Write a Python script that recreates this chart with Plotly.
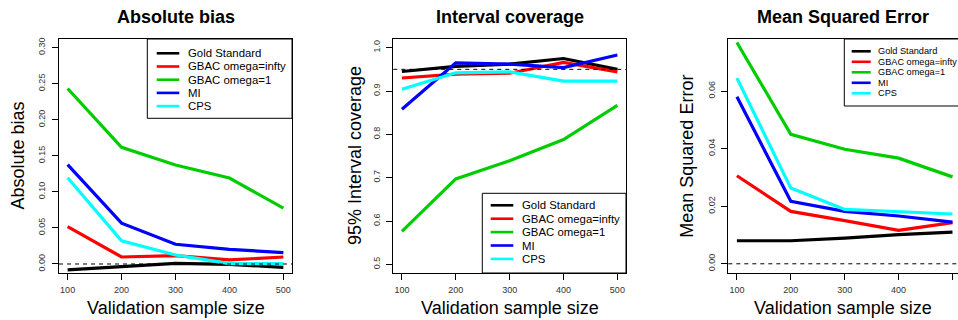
import plotly.graph_objects as go

W, H = 958, 320
FONT = "Liberation Sans, Arial, Helvetica, sans-serif"

# ---------------- data ----------------
sizes = [100, 200, 300, 400, 500]
methods = ["Gold Standard", "GBAC omega=infty", "GBAC omega=1", "MI", "CPS"]
colors = ["#000000", "#FF0000", "#00CD00", "#0000FF", "#00FFFF"]

bias_gold = [-0.0083, -0.0042, 0.0009, -0.0005, -0.0046]
bias_inf = [0.0519, 0.0097, 0.0116, 0.0056, 0.0097]
bias_one = [0.2434, 0.1618, 0.1373, 0.1192, 0.0774]
bias_mi = [0.1377, 0.0566, 0.0274, 0.0204, 0.0158]
bias_cps = [0.1196, 0.0320, 0.0125, 0.0005, 0.0005]

cov_gold = [0.945, 0.957, 0.962, 0.975, 0.950]
cov_inf = [0.930, 0.939, 0.941, 0.966, 0.944]
cov_one = [0.576, 0.697, 0.739, 0.788, 0.867]
cov_mi = [0.858, 0.965, 0.962, 0.954, 0.983]
cov_cps = [0.904, 0.942, 0.944, 0.923, 0.923]

mse_gold = [0.0080, 0.0080, 0.0089, 0.0101, 0.0110]
mse_inf = [0.0306, 0.0182, 0.0150, 0.0116, 0.0143]
mse_one = [0.0769, 0.0450, 0.0398, 0.0367, 0.0302]
mse_mi = [0.0580, 0.0217, 0.0182, 0.0166, 0.0145]
mse_cps = [0.0645, 0.0263, 0.0189, 0.0181, 0.0173]

x_ticks = [100, 200, 300, 400, 500]
bias_ticks = [0.00, 0.05, 0.10, 0.15, 0.20, 0.25, 0.30]
bias_ticktext = ["0.00", "0.05", "0.10", "0.15", "0.20", "0.25", "0.30"]
cov_ticks = [0.5, 0.6, 0.7, 0.8, 0.9, 1.0]
cov_ticktext = ["0.5", "0.6", "0.7", "0.8", "0.9", "1.0"]
mse_ticks = [0.00, 0.02, 0.04, 0.06]
mse_ticktext = ["0.00", "0.02", "0.04", "0.06"]

titles = ["Absolute bias", "Interval coverage", "Mean Squared Error"]
y_titles = ["Absolute bias", "95% Interval coverage", "Mean Squared Error"]
x_title = "Validation sample size"
ref_values = [0.0, 0.95, 0.0]

series = [
    [bias_gold, bias_inf, bias_one, bias_mi, bias_cps],
    [cov_gold, cov_inf, cov_one, cov_mi, cov_cps],
    [mse_gold, mse_inf, mse_one, mse_mi, mse_cps],
]
tickvals = [bias_ticks, cov_ticks, mse_ticks]
ticktexts = [bias_ticktext, cov_ticktext, mse_ticktext]

# ---------------- layout geometry (pixels) ----------------
panels = [
    dict(x0=59, x1=292, xr=[84, 516], yr=[-0.0125, 0.312], mirror_y=True,
         ytitle_x=17.5,
         leg=dict(box=(147.3, 39, 292, 118.3), lx=(156.7, 179.3), tx=187.0,
                  ry=53.3, dy=13.2, fs=11.4)),
    dict(x0=393.3, x1=626, xr=[84, 516], yr=[0.48, 1.02], mirror_y=True,
         ytitle_x=355,
         leg=dict(box=(482.3, 193.3, 626, 273), lx=(490.7, 513.3), tx=521.4,
                  ry=205.3, dy=13.4, fs=11.4)),
    dict(x0=728.3, x1=958, xr=[84, 510.2], yr=[-0.0032, 0.0781], mirror_y=False,
         ytitle_x=686.7,
         leg=dict(box=(844.3, 39, 975, 106), lx=(851.7, 870.7), tx=876.8,
                  ry=51.3, dy=10.5, fs=9.2)),
]
Y_TOP, Y_BOT = 39, 273


def px(x):
    return x / W


def py(y):
    return 1 - y / H


fig = go.Figure()
shapes = []
annotations = []
layout_axes = {}

for i, p in enumerate(panels):
    n = "" if i == 0 else str(i + 1)
    xa, ya = "x" + n, "y" + n
    for vals, name, col in zip(series[i], methods, colors):
        fig.add_trace(go.Scatter(
            x=sizes, y=vals, mode="lines", name=name, xaxis=xa, yaxis=ya,
            line=dict(color=col, width=3.2), showlegend=False,
            hoverinfo="x+y+name"))

    layout_axes["xaxis" + n] = dict(
        domain=[px(p["x0"]), px(p["x1"])], range=p["xr"], anchor=ya,
        tickvals=x_ticks, ticktext=[str(v) for v in x_ticks],
        showgrid=False, zeroline=False, showline=True, linecolor="black",
        linewidth=1, mirror=True, ticks="outside", ticklen=6,
        tickcolor="black", tickfont=dict(family=FONT, size=9, color="#333"),
        ticklabelstandoff=2)
    layout_axes["yaxis" + n] = dict(
        domain=[py(Y_BOT), py(Y_TOP)], range=p["yr"], anchor=xa,
        tickvals=tickvals[i], ticktext=ticktexts[i], tickangle=-90,
        showgrid=False, zeroline=False, showline=True, linecolor="black",
        linewidth=1, mirror=p["mirror_y"], ticks="outside", ticklen=6,
        tickcolor="black", tickfont=dict(family=FONT, size=9, color="#333"),
        ticklabelstandoff=3)

    # dashed reference line
    shapes.append(dict(type="line", xref=xa + " domain", yref=ya,
                       x0=0, x1=1, y0=ref_values[i], y1=ref_values[i],
                       line=dict(color="black", width=1, dash="4px,4px")))

    cx = (p["x0"] + min(p["x1"], p["x0"] + 233.7)) / 2
    annotations.append(dict(text="<b>" + titles[i] + "</b>", xref="paper",
                            yref="paper", x=px(cx), y=py(16.7),
                            xanchor="center", yanchor="middle", showarrow=False,
                            font=dict(family=FONT, size=18, color="black")))
    annotations.append(dict(text=x_title, xref="paper", yref="paper",
                            x=px(cx), y=py(307.5), xanchor="center",
                            yanchor="middle", showarrow=False,
                            font=dict(family=FONT, size=18, color="black")))
    annotations.append(dict(text=y_titles[i], xref="paper", yref="paper",
                            x=px(p["ytitle_x"]), y=py((Y_TOP + Y_BOT) / 2),
                            xanchor="center", yanchor="middle", textangle=-90,
                            showarrow=False,
                            font=dict(family=FONT, size=18, color="black")))

    # legend box
    lg = p["leg"]
    bx0, by0, bx1, by1 = lg["box"]
    shapes.append(dict(type="rect", xref="paper", yref="paper",
                       x0=px(bx0), x1=px(bx1), y0=py(by1), y1=py(by0),
                       line=dict(color="black", width=1), fillcolor="white",
                       layer="above"))
    for k, (name, col) in enumerate(zip(methods, colors)):
        yy = lg["ry"] + k * lg["dy"]
        shapes.append(dict(type="line", xref="paper", yref="paper",
                           x0=px(lg["lx"][0]), x1=px(lg["lx"][1]),
                           y0=py(yy), y1=py(yy),
                           line=dict(color=col, width=2.6), layer="above"))
        annotations.append(dict(text=name, xref="paper", yref="paper",
                                x=px(lg["tx"]), y=py(yy), xanchor="left",
                                yanchor="middle", showarrow=False, borderpad=0,
                                font=dict(family=FONT, size=lg["fs"],
                                          color="black")))

fig.update_layout(
    width=W, height=H, margin=dict(l=0, r=0, t=0, b=0),
    plot_bgcolor="white", paper_bgcolor="white", showlegend=False,
    shapes=shapes, annotations=annotations, font=dict(family=FONT),
    **layout_axes)

fig.write_html("out.html")
